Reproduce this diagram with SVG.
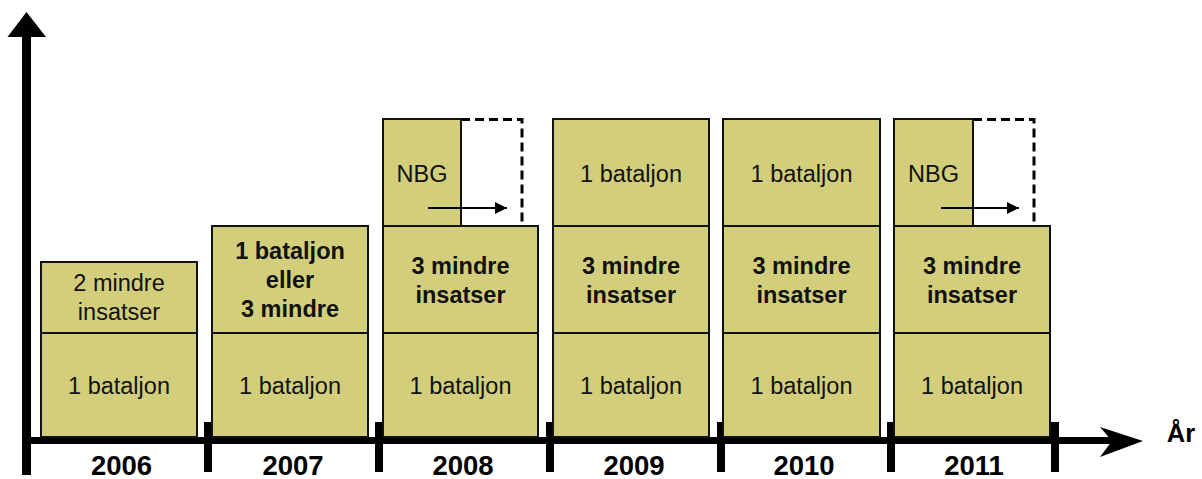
<svg xmlns="http://www.w3.org/2000/svg" width="1202" height="479" viewBox="0 0 1202 479">
<style>
.box{fill:#d3ce7b;stroke:#111;stroke-width:2}
.dash{fill:none;stroke:#000;stroke-width:3;stroke-dasharray:9,5}
.t{font-family:"Liberation Sans",Arial,sans-serif;font-size:23.5px;fill:#111;text-anchor:middle}
.b{font-weight:bold}
.yr{font-family:"Liberation Sans",Arial,sans-serif;font-size:27.5px;font-weight:bold;fill:#000;text-anchor:middle}
.tick{fill:#000}
</style>
<defs>
<marker id="ah" markerWidth="12" markerHeight="12" refX="12" refY="6" orient="auto" markerUnits="userSpaceOnUse">
<path d="M0,0 L12,6 L0,12 Z" fill="#000"/>
</marker>
</defs>
<rect width="1202" height="479" fill="#fff"/>

<g id="axes">
<rect x="22" y="36" width="9" height="439" fill="#000"/>
<polygon points="26.5,12 46,37 7.5,37" fill="#000"/>
<rect x="22" y="437" width="1090" height="7" fill="#000"/>
<polygon points="1100,427 1143,441 1100,457 1112,441" fill="#000"/>
<rect class="tick" x="204" y="422" width="8" height="50"/>
<rect class="tick" x="375" y="422" width="8" height="50"/>
<rect class="tick" x="546" y="422" width="8" height="50"/>
<rect class="tick" x="717" y="422" width="8" height="50"/>
<rect class="tick" x="887" y="422" width="8" height="50"/>
<rect class="tick" x="1051" y="422" width="8" height="50"/>
<text x="1181" y="442" font-family="'Liberation Sans',Arial,sans-serif" font-size="25.5" font-weight="bold" text-anchor="middle" fill="#000">År</text>
<text class="yr" x="121.5" y="475">2006</text>
<text class="yr" x="293" y="475">2007</text>
<text class="yr" x="463" y="475">2008</text>
<text class="yr" x="634" y="475">2009</text>
<text class="yr" x="804" y="475">2010</text>
<text class="yr" x="974" y="475">2011</text>
</g>

<g id="col2006">
<g id="n2006a"><rect class="box" x="41" y="333" width="156" height="104"/><text class="t" x="119" y="394">1 bataljon</text></g>
<g id="n2006b"><rect class="box" x="41" y="262" width="156" height="71"/><text class="t" x="119" y="291">2 mindre</text><text class="t" x="119" y="320">insatser</text></g>
</g>

<g id="col2007">
<g id="n2007a"><rect class="box" x="212" y="333" width="156" height="104"/><text class="t" x="290" y="394">1 bataljon</text></g>
<g id="n2007b"><rect class="box" x="212" y="226" width="156" height="107"/><text class="t b" x="290" y="259">1 bataljon</text><text class="t b" x="290" y="288">eller</text><text class="t b" x="290" y="317">3 mindre</text></g>
</g>

<g id="col2008">
<g id="n2008a"><rect class="box" x="383" y="333" width="155" height="104"/><text class="t" x="460.5" y="394">1 bataljon</text></g>
<g id="n2008b"><rect class="box" x="383" y="226" width="155" height="107"/><text class="t b" x="460.5" y="274">3 mindre</text><text class="t b" x="460.5" y="303">insatser</text></g>
<g id="n2008c"><path class="dash" d="M461,119.5 H522 V226"/><rect class="box" x="383" y="119" width="78" height="107"/><text class="t" x="422" y="182">NBG</text></g>
</g>

<g id="col2009">
<g id="n2009a"><rect class="box" x="553" y="333" width="156" height="104"/><text class="t" x="631" y="394">1 bataljon</text></g>
<g id="n2009b"><rect class="box" x="553" y="226" width="156" height="107"/><text class="t b" x="631" y="274">3 mindre</text><text class="t b" x="631" y="303">insatser</text></g>
<g id="n2009c"><rect class="box" x="553" y="119" width="156" height="107"/><text class="t" x="631" y="182">1 bataljon</text></g>
</g>

<g id="col2010">
<g id="n2010a"><rect class="box" x="723" y="333" width="157" height="104"/><text class="t" x="801.5" y="394">1 bataljon</text></g>
<g id="n2010b"><rect class="box" x="723" y="226" width="157" height="107"/><text class="t b" x="801.5" y="274">3 mindre</text><text class="t b" x="801.5" y="303">insatser</text></g>
<g id="n2010c"><rect class="box" x="723" y="119" width="157" height="107"/><text class="t" x="801.5" y="182">1 bataljon</text></g>
</g>

<g id="col2011">
<g id="n2011a"><rect class="box" x="894" y="333" width="156" height="104"/><text class="t" x="972" y="394">1 bataljon</text></g>
<g id="n2011b"><rect class="box" x="894" y="226" width="156" height="107"/><text class="t b" x="972" y="274">3 mindre</text><text class="t b" x="972" y="303">insatser</text></g>
<g id="n2011c"><path class="dash" d="M973,119.5 H1034 V226"/><rect class="box" x="894" y="119" width="79" height="107"/><text class="t" x="933.5" y="182">NBG</text></g>
</g>

<g id="connectors">
<line x1="428" y1="208" x2="507" y2="208" stroke="#000" stroke-width="2" marker-end="url(#ah)"/>
<line x1="941" y1="208" x2="1019" y2="208" stroke="#000" stroke-width="2" marker-end="url(#ah)"/>
</g>
</svg>
